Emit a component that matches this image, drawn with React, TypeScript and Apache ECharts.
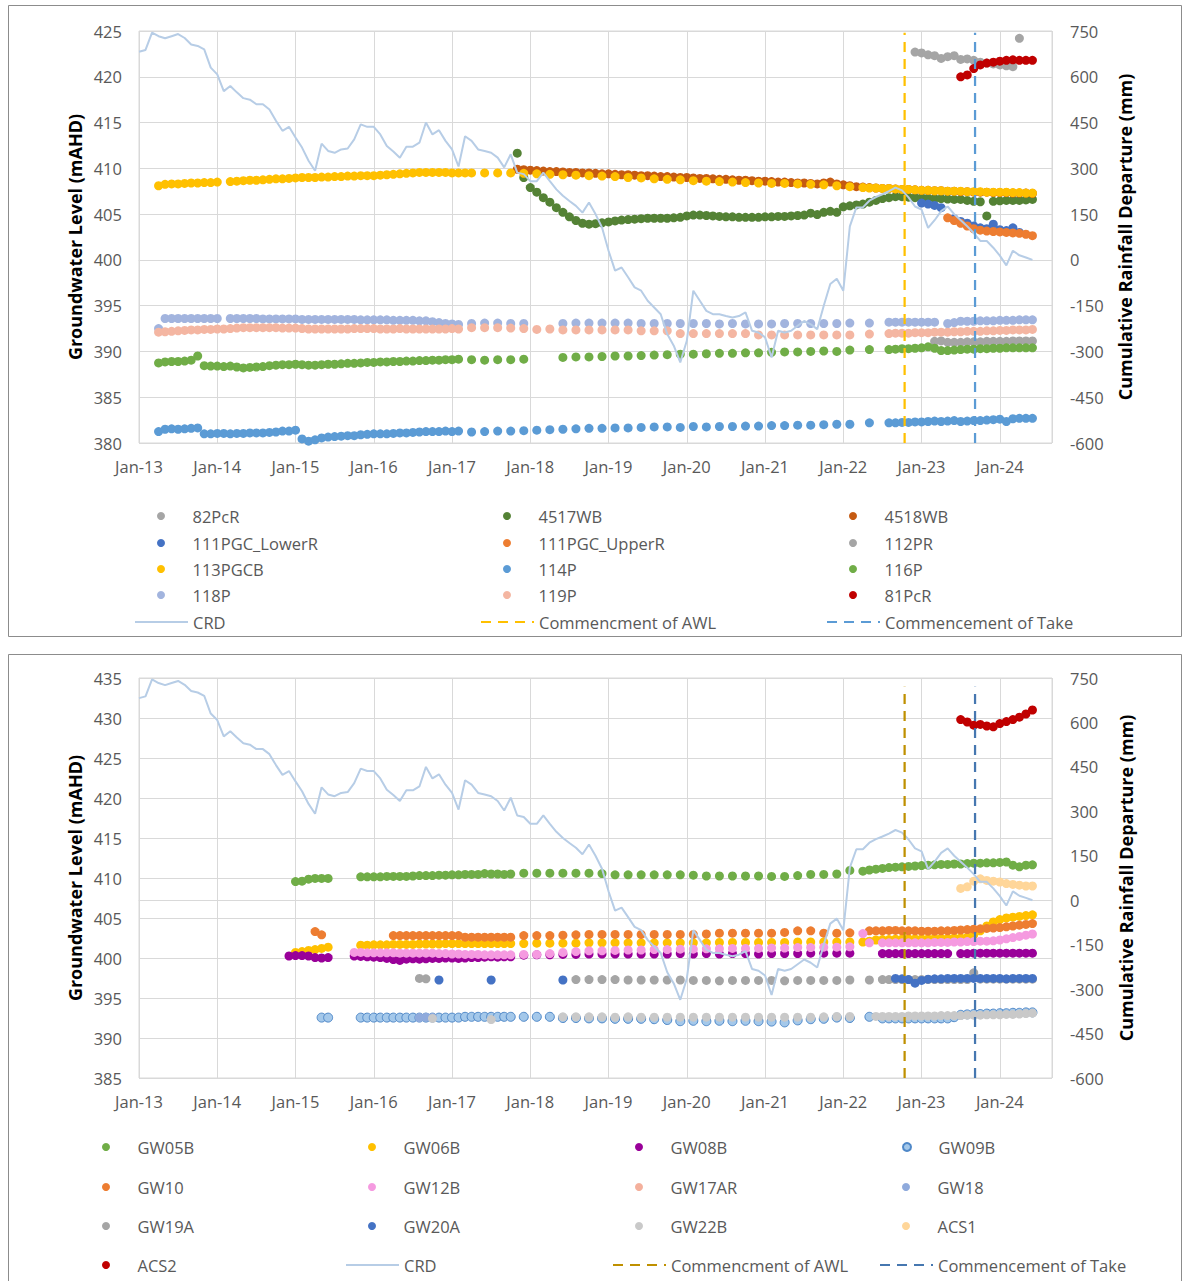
import React, { useEffect, useRef } from "react";
import * as echarts from "echarts";

const FONT = "'Open Sans', 'Liberation Sans', sans-serif";
const TICK_COLOR = "#595959";
const GRID_COLOR = "#d9d9d9";

// x axis = months since Jan-2013
const X_MAX = 140;
const YEAR_TICKS = ["Jan-13", "Jan-14", "Jan-15", "Jan-16", "Jan-17", "Jan-18", "Jan-19", "Jan-20", "Jan-21", "Jan-22", "Jan-23", "Jan-24"];
const AWL_MONTH = 117.4;
const TAKE_MONTH = 128.2;

// Cumulative rainfall departure (mm), monthly from Jan-13
const CRD_START = 0;
const CRD = [
  682, 688, 745, 733, 726, 733, 740, 727, 706, 701, 690, 630,
  608, 553, 570, 549, 530, 525, 510, 510, 493, 456, 423, 436,
  401, 368, 325, 292, 381, 357, 351, 362, 365, 395, 444, 436,
  436, 411, 373, 355, 335, 371, 371, 384, 450, 411, 425, 390,
  362, 306, 405, 390, 362, 357, 351, 335, 303, 346, 286, 281,
  258, 258, 286, 258, 231, 210, 193, 177, 155, 188, 150, 106,
  30, -35, -25, -57, -90, -101, -134, -156, -178, -243, -281, -336,
  -265, -101, -134, -167, -178, -178, -184, -189, -184, -172, -232, -238,
  -254, -320, -232, -238, -232, -216, -200, -211, -227, -150, -79, -62,
  -101, 110, 172, 172, 194, 206, 215, 225, 237, 228, 205, 175,
  165, 105, 130, 160, 175, 150, 130, 110, 88, 62, 62, 40,
  14, -18, 30, 15, 8, 0,
];

// Segments: [startMonth, stepMonths, values]
type Seg = [number, number, (number | null)[]];

// ---------- Top chart wells (mAHD) ----------
const T_82PcR: Seg[] = [[119, 1, [422.7, 422.6, 422.4, 422.3, 422.0, 422.2, 422.3, 421.9, 421.95, 421.8, 421.6, 421.5, 421.4, 421.3, 421.2, 421.1, 424.2]]];
const T_4517WB: Seg[] = [[58, 1, [
  411.65, 409.0, 407.9, 407.4, 406.8, 406.3, 405.7, 405.2, 404.7, 404.3, 404.0, 403.9,
  403.95, 404.05, 404.15, 404.25, 404.35, 404.4, 404.45, 404.5, 404.55, 404.55, 404.55, 404.55,
  404.6, 404.65, 404.8, 404.9, 404.9, 404.85, 404.8, 404.75, 404.7, 404.7, 404.65, 404.65,
  404.65, 404.65, 404.7, 404.7, 404.75, 404.75, 404.8, 404.85, 404.9, 405.1, 404.95, 405.2,
  405.3, 405.2, 405.8, 405.9, 406.0, 406.1, 406.3, 406.5, 406.7, 406.8, 406.9, 406.9,
  406.85, 406.8, 406.8, 406.75, 406.7, 406.7, 406.65, 406.6, 406.6, 406.5, 406.4, 406.35,
  404.8, 406.4, 406.45, 406.5, 406.5, 406.5, 406.55, 406.6,
]]];
const T_4518WB: Seg[] = [[58, 1, [
  409.9, 409.85, 409.8, 409.75, 409.7, 409.65, 409.65, 409.6, 409.55, 409.55, 409.5, 409.5,
  409.45, 409.4, 409.4, 409.35, 409.3, 409.3, 409.25, 409.2, 409.2, 409.15, 409.1, 409.1,
  409.05, 409.0, 409.0, 408.95, 408.9, 408.9, 408.85, 408.8, 408.8, 408.75, 408.7, 408.7,
  408.65, 408.6, 408.6, 408.55, 408.5, 408.5, 408.45, 408.4, 408.4, 408.35, 408.3, 408.4,
  408.5, 408.3, 408.2, 408.1, 408.0, 407.95, 407.9, 407.85, 407.8, 407.8, 407.75, 407.7,
  407.7, 407.65, 407.6, 407.6, 407.55, 407.55, 407.5, 407.5, 407.45, 407.45, 407.4, 407.4,
  407.4, 407.35, 407.35, 407.35, 407.3, 407.3, 407.3, 407.25,
]]];
const T_111PGC_LowerR: Seg[] = [[120, 1, [406.2, 406.1, 405.95, 405.7, null, 404.5, 404.2, 404.0, 403.7, 403.5, 403.4, 403.9, 403.3, 403.2, 403.5, 403.0]]];
const T_111PGC_UpperR: Seg[] = [[124, 1, [404.6, 404.3, 404.0, 403.7, 403.4, 403.25, 403.15, 403.1, 403.05, 403.0, 402.95, 402.9, 402.8, 402.65]]];
const T_112PR: Seg[] = [[122, 1, [391.1, 391.15, 391.0, 391.0, 391.0, 391.05, 391.05, 391.05, 391.1, 391.1, 391.1, 391.1, 391.15, 391.15, 391.15, 391.15]]];
const T_113PGCB: Seg[] = [
  [3, 1, [
    408.1, 408.25, 408.3, 408.3, 408.35, 408.4, 408.4, 408.45, 408.45, 408.5, null, 408.55,
    408.6, 408.65, 408.7, 408.7, 408.75, 408.8, 408.85, 408.85, 408.9, 408.95, 409.0, 409.0,
    409.0, 409.05, 409.05, 409.1, 409.1, 409.15, 409.15, 409.2, 409.2, 409.2, 409.25, 409.3,
    409.35, 409.4, 409.45, 409.5, 409.55, 409.55, 409.55, 409.55, 409.55, 409.5, 409.5, 409.5,
  ]],
  [51, 2, [
    409.5, 409.5, 409.5, 409.5, 409.45, 409.4, 409.35, 409.3, 409.25, 409.2, 409.15, 409.1,
    409.0, 408.95, 408.85, 408.8, 408.75, 408.65, 408.6, 408.55, 408.5, 408.45, 408.4, 408.35,
    408.35, 408.3, 408.25, 408.2, 408.1, 408.0, 407.9,
  ]],
  [112, 1, [
    407.85, 407.85, 407.8, 407.8, 407.75, 407.7, 407.7, 407.65, 407.6, 407.6, 407.55, 407.55,
    407.5, 407.5, 407.5, 407.45, 407.45, 407.45, 407.4, 407.4, 407.4, 407.4, 407.35, 407.35,
    407.3, 407.3,
  ]],
];
const T_114P: Seg[] = [
  [3, 1, [
    381.25, 381.5, 381.55, 381.5, 381.55, 381.6, 381.65, 381.0, 381.0, 381.05, 381.05, 381.0,
    381.05, 381.05, 381.1, 381.1, 381.1, 381.15, 381.2, 381.3, 381.3, 381.4, 380.45, 380.2,
    380.35, 380.55, 380.65, 380.7, 380.75, 380.8, 380.8, 380.9, 380.95, 381.0, 381.0, 381.0,
    381.05, 381.1, 381.1, 381.15, 381.2, 381.25, 381.25, 381.25, 381.3, 381.25, 381.3,
  ]],
  [51, 2, [
    381.2, 381.25, 381.3, 381.3, 381.35, 381.4, 381.45, 381.5, 381.55, 381.6, 381.6, 381.65,
    381.65, 381.7, 381.75, 381.75, 381.7, 381.8, 381.75, 381.8, 381.8, 381.85, 381.85, 381.9,
    381.9, 381.95, 381.95, 382.0, 382.05, 382.05,
  ]],
  [112, 1, [382.2]],
  [115, 1, [
    382.2, 382.2, 382.25, 382.25, 382.3, 382.3, 382.35, 382.4, 382.35, 382.4, 382.45, 382.35,
    382.4, 382.45, 382.45, 382.5, 382.55, 382.6, 382.35, 382.65, 382.7, 382.7, 382.7,
  ]],
];
const T_116P: Seg[] = [
  [3, 1, [
    388.75, 388.85, 388.9, 388.9, 388.95, 389.05, 389.5, 388.45, 388.4, 388.4, 388.35, 388.4,
    388.3, 388.2, 388.25, 388.3, 388.35, 388.45, 388.5, 388.55, 388.55, 388.6, 388.55, 388.5,
    388.5, 388.55, 388.6, 388.6, 388.65, 388.7, 388.7, 388.75, 388.8, 388.8, 388.85, 388.85,
    388.9, 388.9, 388.95, 388.95, 389.0, 389.0, 389.05, 389.05, 389.1, 389.1, 389.15,
  ]],
  [51, 2, [
    389.1, 389.05, 389.1, 389.1, 389.15, null, null, 389.35, 389.4, 389.4, 389.45, 389.5,
    389.5, 389.55, 389.6, 389.65, 389.7, 389.7, 389.75, 389.8, 389.8, 389.85, 389.85, 389.9,
    389.95, 389.95, 390.0, 390.05, 390.0, 390.15,
  ]],
  [112, 1, [390.2]],
  [115, 1, [
    390.2, 390.25, 390.3, 390.3, 390.35, 390.4, 390.5, 390.35, 390.1, 390.1, 390.15, 390.2,
    390.25, 390.25, 390.3, 390.3, 390.35, 390.35, 390.4, 390.4, 390.4, 390.4, 390.4,
  ]],
];
const T_118P: Seg[] = [
  [3, 1, [
    392.5, 393.6, 393.6, 393.6, 393.6, 393.6, 393.6, 393.6, 393.6, 393.6, null, 393.6,
    393.6, 393.6, 393.6, 393.6, 393.55, 393.55, 393.55, 393.55, 393.55, 393.55, 393.5, 393.5,
    393.5, 393.5, 393.5, 393.5, 393.5, 393.5, 393.5, 393.45, 393.45, 393.45, 393.45, 393.45,
    393.4, 393.4, 393.4, 393.4, 393.35, 393.35, 393.25, 393.15, 393.05, 393.0, 392.95,
  ]],
  [51, 2, [
    393.05, 393.1, 393.1, 393.05, 393.05, null, null, 393.05, 393.1, 393.1, 393.1, 393.1,
    393.1, 393.05, 393.05, 393.05, 393.05, 393.05, 393.05, 393.0, 393.05, 393.0, 393.0, 393.0,
    393.05, 393.05, 393.05, 393.05, 393.05, 393.1,
  ]],
  [112, 1, [393.1]],
  [115, 1, [
    393.2, 393.2, 393.2, 393.2, 393.2, 393.2, 393.2, 393.2, null, 393.05, 393.15, 393.3,
    393.3, 393.3, 393.35, 393.35, 393.35, 393.4, 393.4, 393.4, 393.45, 393.45, 393.45,
  ]],
];
const T_119P: Seg[] = [
  [3, 1, [
    392.1, 392.15, 392.2, 392.25, 392.3, 392.35, 392.35, 392.4, 392.4, 392.45, 392.45, 392.5,
    392.55, 392.6, 392.6, 392.6, 392.6, 392.6, 392.6, 392.55, 392.55, 392.55, 392.5, 392.45,
    392.45, 392.45, 392.45, 392.45, 392.45, 392.45, 392.5, 392.5, 392.5, 392.5, 392.45, 392.45,
    392.45, 392.5, 392.45, 392.45, 392.45, 392.45, 392.45, 392.45, 392.45, 392.5, 392.45,
  ]],
  [51, 2, [
    392.6, 392.6, 392.6, 392.55, 392.5, 392.4, 392.45, 392.35, 392.35, 392.35, 392.35, 392.35,
    392.35, 392.25, 392.25, 392.25, 391.95, 391.95, 391.95, 391.95, 391.95, 391.95, 391.8, 391.8,
    391.8, 391.8, 391.8, 391.8, 391.8, 391.8,
  ]],
  [112, 1, [391.9]],
  [115, 1, [
    391.95, 392.0, 392.0, 392.0, 392.05, 392.05, 392.05, 392.1, 392.1, 392.1, 392.15, 392.15,
    392.2, 392.2, 392.2, 392.25, 392.25, 392.3, 392.3, 392.35, 392.35, 392.35, 392.4,
  ]],
];
const T_81PcR: Seg[] = [[126, 1, [420.0, 420.2, 420.9, 421.3, 421.5, 421.6, 421.7, 421.8, 421.85, 421.8, 421.8, 421.8]]];

// ---------- Bottom chart wells (mAHD) ----------
const B_GW05B: Seg[] = [
  [24, 1, [409.55, 409.6, 409.85, 409.95, 409.95, 409.95]],
  [34, 1, [
    410.15, 410.15, 410.15, 410.15, 410.2, 410.2, 410.2, 410.2, 410.25, 410.3, 410.3, 410.3,
    410.35, 410.35, 410.4, 410.4, 410.45, 410.45, 410.45, 410.55, 410.5, 410.5, 410.45, 410.5,
  ]],
  [59, 2, [
    410.6, 410.6, 410.6, 410.6, 410.6, 410.6, 410.55, 410.4, 410.4, 410.4, 410.4, 410.4,
    410.4, 410.35, 410.25, 410.25, 410.25, 410.25, 410.25, 410.2, 410.2, 410.3, 410.45, 410.45,
    410.5, 410.95,
  ]],
  [111, 1, [
    410.85, 411.0, 411.1, 411.2, 411.3, 411.35, 411.4, 411.45, 411.5, 411.55, 411.6, 411.65,
    411.7, 411.7, 411.75, 411.75, 411.8, 411.85, 411.85, 411.9, 411.9, 411.95, 412.0, 411.6,
    411.4, 411.6, 411.65,
  ]],
];
const B_GW06B: Seg[] = [
  [24, 1, [400.7, 400.8, 400.95, 401.05, 401.2, 401.35]],
  [34, 1, [
    401.6, 401.6, 401.65, 401.65, 401.65, 401.7, 401.7, 401.7, 401.7, 401.75, 401.75, 401.75,
    401.75, 401.8, 401.8, 401.8, 401.8, 401.8, 401.8, 401.8, 401.8, 401.8, 401.8, 401.8,
  ]],
  [59, 2, [
    401.8, 401.85, 401.85, 401.85, 401.85, 401.9, 401.9, 401.9, 401.9, 401.9, 401.9, 401.9,
    401.9, 401.9, 401.9, 401.95, 401.95, 401.95, 401.95, 401.95, 401.95, 402.0, 402.0, 402.0,
    402.0, 402.0,
  ]],
  [111, 1, [
    402.0, 402.1, 402.25, 402.3, 402.3, 402.35, 402.35, 402.4, 402.4, 402.4, 402.4, 402.45,
    402.45, 402.45, 402.5, 402.5, 402.6, 402.9, 403.4, 404.0, 404.5, 404.8, 405.0, 405.1,
    405.2, 405.3, 405.4,
  ]],
];
const B_GW08B: Seg[] = [
  [23, 1, [400.25, 400.3, 400.3, 400.25, 400.05, 400.0, 400.05]],
  [33, 1, [
    400.25, 400.2, 400.15, 400.1, 400.05, 399.95, 399.8, 399.7, 399.85, 399.9, 399.85, 399.9,
    399.95, 399.95, 400.0, 400.0, 399.95, 400.0, 400.05, 400.05, 400.1, 400.15, 400.1, 400.15,
    400.15,
  ]],
  [59, 2, [
    400.35, 400.4, 400.4, 400.45, 400.45, 400.5, 400.5, 400.5, 400.5, 400.5, 400.5, 400.5,
    400.55, 400.5, 400.55, 400.5, 400.55, 400.55, 400.5, 400.55, 400.55, 400.55, 400.6, 400.6,
    400.6, 400.6,
  ]],
  [114, 1, [
    400.55, 400.55, 400.55, 400.55, 400.55, 400.55, 400.55, 400.55, 400.55, 400.55, 400.55, null,
    400.55, 400.55, 400.6, 400.6, 400.6, 400.6, 400.6, 400.6, 400.6, 400.6, 400.6, 400.6,
  ]],
];
const B_GW09B: Seg[] = [
  [28, 1, [392.55, 392.55]],
  [34, 1, [
    392.55, 392.55, 392.55, 392.55, 392.55, 392.55, 392.55, 392.55, 392.55, 392.55, 392.55, 392.55,
    392.55, 392.55, 392.55, 392.55, 392.65, 392.65, 392.65, 392.65, 392.65, 392.65, 392.65, 392.65,
  ]],
  [59, 2, [
    392.65, 392.65, 392.65, 392.5, 392.5, 392.45, 392.45, 392.4, 392.4, 392.4, 392.35, 392.25,
    392.1, 392.15, 392.1, 392.15, 392.1, 392.15, 392.1, 392.05, 391.95, 392.2, 392.35, 392.4,
    392.55, 392.5,
  ]],
  [112, 1, [392.65]],
  [114, 1, [
    392.45, 392.45, 392.45, 392.45, 392.45, 392.45, 392.45, 392.45, 392.45, 392.45, 392.45, 392.6,
    392.9, 392.95, 393.0, 393.0, 393.05, 393.05, 393.1, 393.1, 393.15, 393.15, 393.2, 393.2,
  ]],
];
const B_GW10: Seg[] = [
  [27, 1, [403.3, 402.9]],
  [39, 1, [
    402.8, 402.8, 402.8, 402.8, 402.8, 402.8, 402.8, 402.8, 402.8, 402.8, 402.8, 402.6,
    402.6, 402.6, 402.6, 402.6, 402.6, 402.6, 402.6,
  ]],
  [59, 2, [
    402.8, 402.8, 402.8, 402.85, 402.9, 402.95, 402.95, 402.95, 402.95, 402.95, 402.95, 402.95,
    402.95, 402.95, 403.0, 403.1, 403.1, 403.1, 403.1, 403.1, 403.2, 403.4, 403.4, 403.1,
    403.1, 403.15,
  ]],
  [112, 1, [
    403.4, 403.4, 403.4, 403.45, 403.45, 403.4, 403.4, 403.4, 403.35, 403.35, 403.35, 403.4,
    403.4, 403.45, 403.5, 403.55, 403.6, 403.65, 403.7, 403.75, 403.8, 403.9, 404.0, 404.1,
    404.2, 404.3,
  ]],
];
const B_GW12B: Seg[] = [
  [33, 1, [
    400.7, 400.7, 400.65, 400.65, 400.65, 400.65, 400.65, 400.6, 400.6, 400.6, 400.6, 400.6,
    400.6, 400.55, 400.55, 400.5, 400.5, 400.45, 400.45, 400.45, 400.4, 400.4, 400.4, 400.4,
    400.4,
  ]],
  [59, 2, [
    400.45, 400.45, 400.55, 400.7, 400.8, 400.9, 400.9, 400.95, 401.0, 401.0, 401.05, 401.05,
    401.1, 401.1, 401.15, 401.15, 401.2, 401.2, 401.2, 401.25, 401.25, 401.3, 401.3, 401.35,
    401.35, 401.4,
  ]],
  [111, 1, [403.05, 401.9]],
  [114, 1, [
    401.9, 401.9, 401.9, 401.9, 401.9, 401.9, 401.9, 401.9, 401.95, 401.95, 401.95, 402.0,
    402.0, 402.05, 402.05, 402.1, 402.1, 402.15, 402.25, 402.4, 402.55, 402.7, 402.85, 403.0,
  ]],
];
const B_GW17AR: Seg[] = [];
const B_GW18: Seg[] = [[43, 1, [392.55, 392.6, 392.55]]];
const B_GW19A: Seg[] = [
  [43, 1, [397.45, 397.4]],
  [67, 2, [
    397.3, 397.3, 397.3, 397.3, 397.25, 397.25, 397.25, 397.25, 397.25, 397.2, 397.2, 397.15,
    397.2, 397.2, 397.2, 397.2, 397.15, 397.2, 397.2, 397.2, 397.2, 397.25,
  ]],
  [112, 1, [397.25]],
  [114, 1, [
    397.3, 397.3, 397.3, 397.3, 397.3, 397.3, 397.3, 397.3, 397.3, 397.3, 397.3, 397.3,
    397.3, 397.3, 398.15, 397.35, 397.35, 397.35, 397.35, 397.35, 397.35, 397.35, 397.35, 397.35,
  ]],
];
const B_GW20A: Seg[] = [
  [46, 1, [397.25]],
  [54, 1, [397.25]],
  [65, 1, [397.25]],
  [116, 1, [
    397.45, 397.4, 397.3, 396.85, 397.2, 397.35, 397.4, 397.4, 397.45, 397.45, 397.45, 397.45,
    397.45, 397.45, 397.45, 397.45, 397.45, 397.4, 397.45, 397.45, 397.45, 397.45,
  ]],
];
const B_GW22B: Seg[] = [
  [45, 1, [392.45]],
  [54, 1, [392.3]],
  [65, 2, [
    392.65, 392.65, 392.65, 392.65, 392.6, 392.65, 392.6, 392.6, 392.6, 392.6, 392.6, 392.6,
    392.6, 392.6, 392.6, 392.6, 392.6, 392.6, 392.6, 392.6, 392.65, 392.7, 392.7,
  ]],
  [113, 1, [
    392.7, 392.7, 392.7, 392.7, 392.7, 392.75, 392.75, 392.75, 392.75, 392.75, 392.8, 392.8,
    392.8, 392.8, 392.85, 392.85, 392.85, 392.9, 392.9, 392.9, 392.95, 392.95, 393.0, 393.05,
    393.1,
  ]],
];
const B_ACS1: Seg[] = [[126, 1, [408.7, 408.9, 409.6, 409.9, 409.7, 409.6, 409.5, 409.3, 409.2, 409.1, 409.0, 409.0]]];
const B_ACS2: Seg[] = [[126, 1, [429.8, 429.5, 429.1, 429.2, 429.0, 428.9, 429.3, 429.55, 429.8, 430.1, 430.5, 431.0]]];

const TOP_WELLS = [
  { name: "82PcR", color: "#A5A5A5", segs: T_82PcR },
  { name: "4517WB", color: "#548235", segs: T_4517WB },
  { name: "4518WB", color: "#C55A11", segs: T_4518WB },
  { name: "111PGC_LowerR", color: "#4472C4", segs: T_111PGC_LowerR },
  { name: "111PGC_UpperR", color: "#ED7D31", segs: T_111PGC_UpperR },
  { name: "112PR", color: "#A5A5A5", segs: T_112PR },
  { name: "113PGCB", color: "#FFC000", segs: T_113PGCB },
  { name: "114P", color: "#5B9BD5", segs: T_114P },
  { name: "116P", color: "#70AD47", segs: T_116P },
  { name: "118P", color: "#A2B4DE", segs: T_118P },
  { name: "119P", color: "#F4B6A2", segs: T_119P },
  { name: "81PcR", color: "#C00000", segs: T_81PcR },
];

const BOTTOM_WELLS = [
  { name: "GW05B", color: "#70AD47", segs: B_GW05B },
  { name: "GW06B", color: "#FFC000", segs: B_GW06B },
  { name: "GW08B", color: "#990099", segs: B_GW08B },
  { name: "GW09B", color: "#A4C8EA", border: "#4F88C8", segs: B_GW09B },
  { name: "GW10", color: "#ED7D31", segs: B_GW10 },
  { name: "GW12B", color: "#F59AE0", segs: B_GW12B },
  { name: "GW17AR", color: "#F4B09C", segs: B_GW17AR },
  { name: "GW18", color: "#8FAADC", segs: B_GW18 },
  { name: "GW19A", color: "#A5A5A5", segs: B_GW19A },
  { name: "GW20A", color: "#4472C4", segs: B_GW20A },
  { name: "GW22B", color: "#C9C9C9", segs: B_GW22B },
  { name: "ACS1", color: "#FFD699", segs: B_ACS1 },
  { name: "ACS2", color: "#C00000", segs: B_ACS2 },
];

function expand(segs: Seg[]): [number, number][] {
  const out: [number, number][] = [];
  segs.forEach(([start, step, vals]) => {
    vals.forEach((v, i) => {
      if (v !== null) out.push([start + i * step, v]);
    });
  });
  return out;
}

type Cfg = {
  gridTop: number;
  gridHeight: number;
  yMin: number;
  yMax: number;
  wells: any[];
  awlColor: string;
  takeColor: string;
  lineTop: number;
  cols: number[];
  rowTops: number[];
  ncols: number;
  titleY: number;
  titleLeftX: number;
  titleRightX: number;
  border: { y: number; h: number };
};

const LINE_NAMES = ["CRD", "Commencment of AWL", "Commencement of Take"];

function buildOption(c: Cfg) {
  const series: any[] = c.wells.map((w) => ({
    type: "scatter",
    name: w.name,
    data: expand(w.segs),
    symbol: "circle",
    symbolSize: 9,
    itemStyle: w.border
      ? { color: w.color, borderColor: w.border, borderWidth: 1, opacity: 1 }
      : { color: w.color, opacity: 1 },
    emphasis: { disabled: true },
  }));
  series.push({
    type: "line",
    name: "CRD",
    yAxisIndex: 1,
    data: CRD.map((v, i) => [CRD_START + i, v]),
    symbol: "none",
    lineStyle: { color: "#B7CDE6", width: 2 },
    itemStyle: { color: "#B7CDE6" },
    z: 3,
  });
  series.push({
    type: "line",
    name: "Commencment of AWL",
    data: [[AWL_MONTH, c.yMin], [AWL_MONTH, c.lineTop]],
    symbol: "none",
    lineStyle: { color: c.awlColor, width: 2.25, type: [10, 7] },
    itemStyle: { color: c.awlColor },
    z: 4,
  });
  series.push({
    type: "line",
    name: "Commencement of Take",
    data: [[TAKE_MONTH, c.yMin], [TAKE_MONTH, c.lineTop]],
    symbol: "none",
    lineStyle: { color: c.takeColor, width: 2.25, type: [10, 7] },
    itemStyle: { color: c.takeColor },
    z: 4,
  });

  const names = [...c.wells.map((w) => w.name), ...LINE_NAMES];
  const legends = names.map((n, i) => {
    const isLine = LINE_NAMES.indexOf(n) >= 0;
    const base = c.cols[i % c.ncols];
    const lg: any = {
      data: [n],
      left: isLine ? base : base + 23,
      top: c.rowTops[Math.floor(i / c.ncols)],
      orient: "horizontal",
      itemWidth: 53,
      itemHeight: 8,
      padding: 0,
      selectedMode: false,
      textStyle: { color: TICK_COLOR, fontSize: 16.5, fontFamily: FONT, lineHeight: 20 },
    };
    if (isLine) lg.itemStyle = { opacity: 0 };
    return lg;
  });

  const labelStyle = { color: TICK_COLOR, fontSize: 16.5, fontFamily: FONT };

  return {
    animation: false,
    backgroundColor: "#ffffff",
    grid: {
      left: 139,
      top: c.gridTop,
      width: 913,
      height: c.gridHeight,
      show: true,
      borderColor: GRID_COLOR,
      borderWidth: 1,
    },
    xAxis: {
      type: "value",
      min: 0,
      max: X_MAX,
      interval: 12,
      axisLine: { show: true, lineStyle: { color: GRID_COLOR } },
      axisTick: { show: false },
      splitLine: { show: true, lineStyle: { color: GRID_COLOR } },
      axisLabel: {
        ...labelStyle,
        margin: 15,
        formatter: (v: number) => (v % 12 === 0 ? YEAR_TICKS[v / 12] || "" : ""),
      },
    },
    yAxis: [
      {
        type: "value",
        position: "left",
        min: c.yMin,
        max: c.yMax,
        interval: 5,
        axisLine: { show: false },
        axisTick: { show: false },
        splitLine: { show: true, lineStyle: { color: GRID_COLOR } },
        axisLabel: { ...labelStyle, margin: 17 },
      },
      {
        type: "value",
        position: "right",
        min: -600,
        max: 750,
        interval: 150,
        axisLine: { show: false },
        axisTick: { show: false },
        splitLine: { show: false },
        axisLabel: { ...labelStyle, margin: 18 },
      },
    ],
    legend: legends,
    series,
    graphic: [
      {
        type: "rect",
        shape: { x: 8.5, y: c.border.y, width: 1173, height: c.border.h },
        style: { fill: "none", stroke: "#8c8c8c", lineWidth: 1 },
        silent: true,
        z: -10,
      },
      {
        type: "text",
        x: c.titleLeftX,
        y: c.titleY,
        rotation: Math.PI / 2,
        style: {
          text: "Groundwater Level (mAHD)",
          fill: "#000000",
          fontSize: 18,
          fontWeight: "bold",
          fontFamily: FONT,
          align: "center",
          verticalAlign: "middle",
          textAlign: "center",
          textVerticalAlign: "middle",
        },
      },
      {
        type: "text",
        x: c.titleRightX,
        y: c.titleY,
        rotation: Math.PI / 2,
        style: {
          text: "Cumulative Rainfall Departure (mm)",
          fill: "#000000",
          fontSize: 18,
          fontWeight: "bold",
          fontFamily: FONT,
          align: "center",
          verticalAlign: "middle",
          textAlign: "center",
          textVerticalAlign: "middle",
        },
      },
    ],
  };
}

const TOP_CFG: Cfg = {
  gridTop: 31,
  gridHeight: 412,
  yMin: 380,
  yMax: 425,
  wells: TOP_WELLS,
  awlColor: "#FFC000",
  takeColor: "#5B9BD5",
  lineTop: 424.8,
  cols: [134, 480, 826],
  rowTops: [506, 533, 559, 585, 612],
  ncols: 3,
  titleY: 237,
  titleLeftX: 75,
  titleRightX: 1125,
  border: { y: 5.5, h: 631 },
};

const BOTTOM_CFG: Cfg = {
  gridTop: 33,
  gridHeight: 400,
  yMin: 385,
  yMax: 435,
  wells: BOTTOM_WELLS,
  awlColor: "#BF9000",
  takeColor: "#4677B0",
  lineTop: 433.9,
  cols: [79, 345, 612, 879],
  rowTops: [492, 532, 571, 610],
  ncols: 4,
  titleY: 233,
  titleLeftX: 75,
  titleRightX: 1126,
  border: { y: 9.5, h: 700 },
};

export default function App() {
  const topRef = useRef<HTMLDivElement>(null);
  const botRef = useRef<HTMLDivElement>(null);
  useEffect(() => {
    const c1 = echarts.init(topRef.current as HTMLDivElement, null, { renderer: "svg" });
    c1.setOption(buildOption(TOP_CFG));
    const c2 = echarts.init(botRef.current as HTMLDivElement, null, { renderer: "svg" });
    c2.setOption(buildOption(BOTTOM_CFG));
    return () => {
      c1.dispose();
      c2.dispose();
    };
  }, []);
  return (
    <div style={{ position: "absolute", left: 0, top: 0, width: 1182, height: 1281, background: "#ffffff", overflow: "hidden" }}>
      <div ref={topRef} style={{ position: "absolute", left: 0, top: 0, width: 1182, height: 645 }} />
      <div ref={botRef} style={{ position: "absolute", left: 0, top: 645, width: 1182, height: 636 }} />
    </div>
  );
}
